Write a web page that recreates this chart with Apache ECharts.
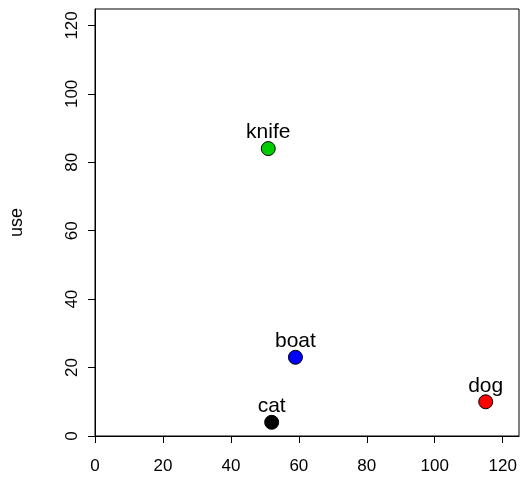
<!DOCTYPE html>
<html><head><meta charset="utf-8">
<script src="https://cdn.jsdelivr.net/npm/echarts@6/dist/echarts.min.js"></script>
<style>html,body{margin:0;padding:0;background:#fff}#c{width:520px;height:478px}</style>
</head><body><div id="c"></div>
<script>
const names = ["cat", "dog", "boat", "knife"];
const xValues = [52, 115, 59, 51];
const yValues = [4, 10, 23, 84];
const tickValues = [0, 20, 40, 60, 80, 100, 120];
const pointColors = ["#000000", "#FF0000", "#0000FF", "#00CD00"];

const chart = echarts.init(document.getElementById('c'), null, {renderer: 'canvas'});
const font = '"Liberation Sans", Arial, sans-serif';
const axisCommon = {
  type: 'value', min: 0, max: 124.8,
  splitLine: {show: false},
  axisLine: {show: true, onZero: false, lineStyle: {color: '#000', width: 1}},
  axisTick: {show: true, inside: false, length: 7, customValues: tickValues, lineStyle: {color: '#000'}},
  axisLabel: {customValues: tickValues, color: '#000', fontSize: 17, fontFamily: font}
};
chart.setOption({
  animation: false,
  grid: {left: 92, right: 1, top: 9, bottom: 42, show: true, borderColor: '#000', borderWidth: 1},
  xAxis: Object.assign({}, axisCommon, {
    axisLabel: Object.assign({}, axisCommon.axisLabel, {margin: 22})
  }),
  yAxis: Object.assign({}, axisCommon, {
    name: 'use', nameLocation: 'middle', nameRotate: 90, nameGap: 69,
    nameTextStyle: {color: '#000', fontSize: 18, fontFamily: font},
    axisLabel: Object.assign({}, axisCommon.axisLabel, {rotate: 90, margin: 14})
  }),
  series: [{
    type: 'scatter',
    symbol: 'circle', symbolSize: 14,
    itemStyle: {opacity: 1},
    data: names.map((n, i) => ({
      name: n, value: [xValues[i], yValues[i]],
      itemStyle: {color: pointColors[i], borderColor: '#000', borderWidth: 1, opacity: 1}
    })),
    label: {show: true, position: 'top', distance: -2, formatter: p => p.name,
      color: '#000', opacity: 1, fontSize: 21, fontFamily: font}
  }]
});
</script></body></html>
